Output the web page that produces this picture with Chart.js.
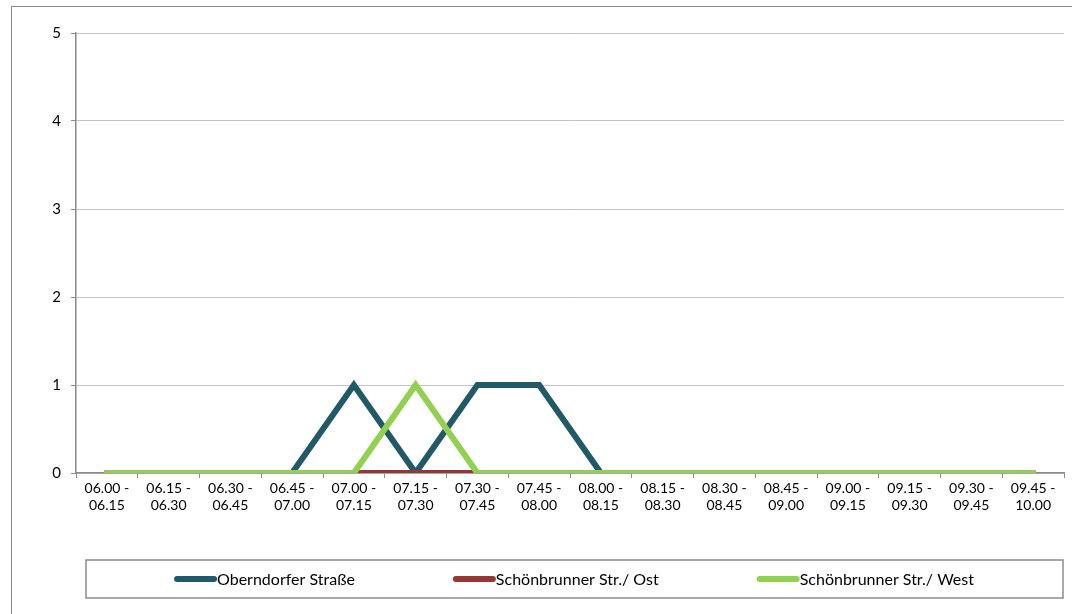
<!DOCTYPE html>
<html>
<head>
  <title>Verkehr je Viertelstunde</title>
  <script src="https://cdn.jsdelivr.net/npm/chart.js"></script>
  <style>
    html, body { margin: 0; padding: 0; background: #fff; overflow: hidden; }
    #frame { position: absolute; left: 11px; top: 6px; width: 1080px; height: 640px; border: 1.5px solid #8a8a8a; }
    #wrap { position: absolute; left: 0; top: 0; width: 1072px; height: 614px; }
  </style>
</head>
<body>
  <div id="frame"></div>
  <div id="wrap"><canvas id="traffic-chart"></canvas></div>
  <script>
    // categories (two-line labels) and values
    const intervals = [
      ['06.00 -', '06.15'], ['06.15 -', '06.30'], ['06.30 -', '06.45'], ['06.45 -', '07.00'],
      ['07.00 -', '07.15'], ['07.15 -', '07.30'], ['07.30 -', '07.45'], ['07.45 -', '08.00'],
      ['08.00 -', '08.15'], ['08.15 -', '08.30'], ['08.30 -', '08.45'], ['08.45 -', '09.00'],
      ['09.00 -', '09.15'], ['09.15 -', '09.30'], ['09.30 -', '09.45'], ['09.45 -', '10.00']
    ];
    const oberndorfer = [0, 0, 0, 0, 1, 0, 1, 1, 0, 0, 0, 0, 0, 0, 0, 0];
    const schoenOst = [0, 0, 0, 0, 0, 0, 0, 0, 0, 0, 0, 0, 0, 0, 0, 0];
    const schoenWest = [0, 0, 0, 0, 0, 1, 0, 0, 0, 0, 0, 0, 0, 0, 0, 0];
    const yTicks = [0, 1, 2, 3, 4, 5];

    const FONT = 'Lato, "Noto Sans", sans-serif';

    // legend drawn in a box below the axis, like the spreadsheet original
    const boxLegend = {
      id: 'boxLegend',
      afterDraw(chart) {
        const ctx = chart.ctx;
        const area = chart.chartArea;
        const left = area.left + 10, right = area.right - 1;
        const top = 560, bottom = 598;
        ctx.save();
        ctx.strokeStyle = '#8c8c8c';
        ctx.lineWidth = 1.5;
        ctx.strokeRect(left, top, right - left, bottom - top);

        ctx.font = '16px ' + FONT;
        ctx.textBaseline = 'middle';
        const lineLen = 43, gap = 97;
        const items = chart.data.datasets.map(ds => ({
          ds, w: lineLen + 1 + ctx.measureText(ds.label).width
        }));
        const total = items.reduce((s, it) => s + it.w, 0) + gap * (items.length - 1);
        let x = left + (right - left - total) / 2;
        const y = (top + bottom) / 2;
        items.forEach(it => {
          ctx.strokeStyle = it.ds.borderColor;
          ctx.lineWidth = 6;
          ctx.lineCap = 'round';
          ctx.beginPath();
          ctx.moveTo(x + 3, y);
          ctx.lineTo(x + lineLen - 3, y);
          ctx.stroke();
          ctx.fillStyle = '#000';
          ctx.fillText(it.ds.label, x + lineLen, y + 1);
          x += it.w + gap;
        });
        ctx.restore();
      }
    };

    const lineStyle = {
      borderWidth: 6,
      pointRadius: 0,
      pointHoverRadius: 0,
      tension: 0,
      borderCapStyle: 'round',
      borderJoinStyle: 'miter',
      fill: false
    };

    new Chart(document.getElementById('traffic-chart').getContext('2d'), {
      type: 'line',
      data: {
        labels: intervals,
        datasets: [
          Object.assign({ label: 'Oberndorfer Straße', data: oberndorfer, borderColor: '#215968', backgroundColor: '#215968', order: 3 }, lineStyle),
          Object.assign({ label: 'Schönbrunner Str./ Ost', data: schoenOst, borderColor: '#953735', backgroundColor: '#953735', order: 2 }, lineStyle),
          Object.assign({ label: 'Schönbrunner Str./ West', data: schoenWest, borderColor: '#92d050', backgroundColor: '#92d050', order: 1 }, lineStyle)
        ]
      },
      options: {
        responsive: true,
        maintainAspectRatio: false,
        animation: false,
        layout: { padding: { left: 12, top: 33, right: 8, bottom: 91 } },
        plugins: {
          legend: { display: false },
          tooltip: { enabled: false }
        },
        scales: {
          x: {
            offset: true,
            afterFit: s => { s.height = 50; },
            grid: { display: true, offset: true, drawOnChartArea: false, tickLength: 5, color: '#8a8a8a' },
            border: { color: '#8a8a8a', width: 1.5 },
            ticks: { color: '#000', font: { family: FONT, size: 14, lineHeight: 1.2 }, padding: 2, maxRotation: 0, autoSkip: false }
          },
          y: {
            min: yTicks[0],
            max: yTicks[yTicks.length - 1],
            afterFit: s => { s.width = 64; },
            afterBuildTicks: s => { s.ticks = yTicks.map(v => ({ value: v })); },
            grid: { color: '#c4c4c4', tickLength: 5, tickColor: '#8a8a8a' },
            border: { color: '#8a8a8a', width: 1.5 },
            ticks: { color: '#000', font: { family: FONT, size: 15 }, padding: 10 }
          }
        }
      },
      plugins: [boxLegend]
    });
  </script>
</body>
</html>
